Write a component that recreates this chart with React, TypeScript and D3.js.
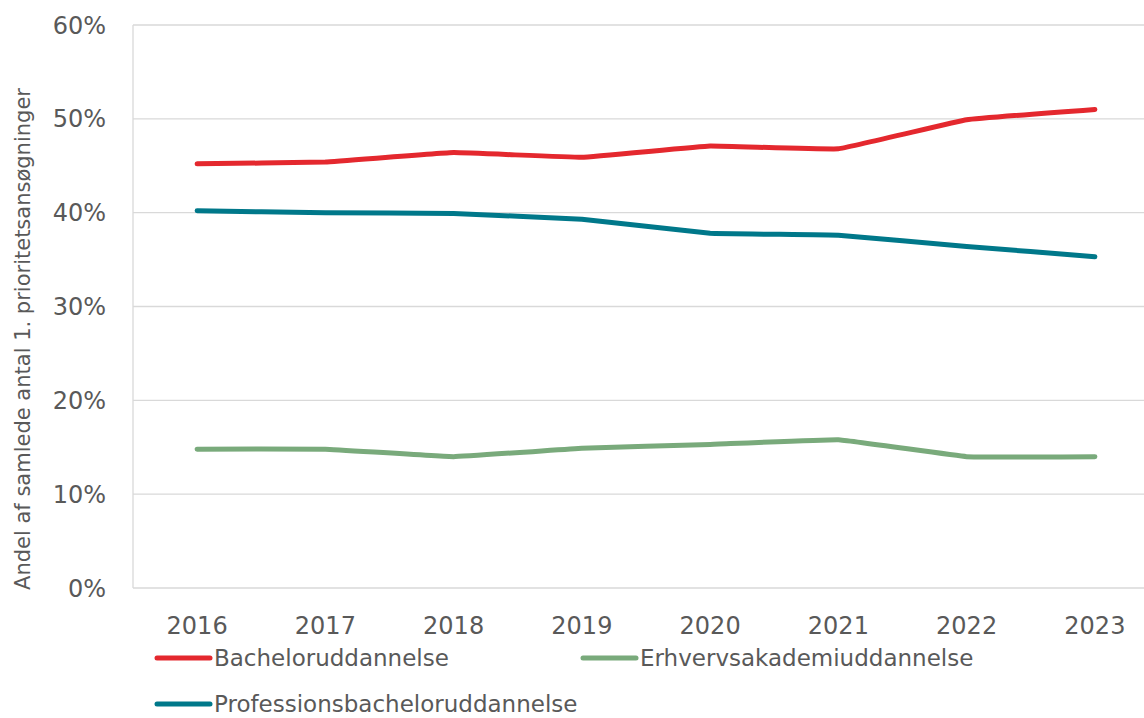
import * as d3 from 'd3';

const years = ['2016', '2017', '2018', '2019', '2020', '2021', '2022', '2023'];
const bachelor = [0.452, 0.454, 0.464, 0.459, 0.471, 0.468, 0.499, 0.51];
const profession = [0.402, 0.4, 0.399, 0.393, 0.378, 0.376, 0.364, 0.353];
const erhverv = [0.148, 0.148, 0.14, 0.149, 0.153, 0.158, 0.14, 0.14];
const yTicks = [0, 0.1, 0.2, 0.3, 0.4, 0.5, 0.6];

const series = [
    { name: 'Bacheloruddannelse', values: bachelor, color: '#E4282E' },
    { name: 'Professionsbacheloruddannelse', values: profession, color: '#00788A' },
    { name: 'Erhvervsakademiuddannelse', values: erhverv, color: '#79AA7B' },
];

const W = 1144;
const H = 718;
const font = 'Tahoma, Verdana, "DejaVu Sans", sans-serif';
const textColor = '#595959';

export default function App() {
    const x = d3.scaleBand().domain(years).range([133, 1159]).padding(0);
    const y = d3.scaleLinear().domain([0, 0.6]).range([588, 25]);
    const cx = (yr: string) => (x(yr) as number) + x.bandwidth() / 2;

    const line = d3.line<number>()
        .x((_, i) => cx(years[i]))
        .y(d => y(d))
        .curve(d3.curveCardinal.tension(0.8));

    // legend layout: two items on first row, one on second
    const legendPos = [
        { x: 157, y: 658 },
        { x: 157, y: 704 },
        { x: 583, y: 658 },
    ];

    return (
        <svg width={W} height={H} style={{ position: 'absolute', left: 0, top: 0 }} fontFamily={font}>
            <rect width={W} height={H} fill="#fff" />
            {yTicks.map(t => (
                <g key={t}>
                    <line x1={133} x2={W} y1={y(t)} y2={y(t)} stroke="#d9d9d9" strokeWidth={1.3} />
                    <text x={106} y={y(t)} dy="0.36em" textAnchor="end" fontSize={24} fill={textColor}>
                        {d3.format('.0%')(t)}
                    </text>
                </g>
            ))}
            <line x1={133} x2={133} y1={25} y2={588} stroke="#d9d9d9" strokeWidth={1.3} />
            {years.map(yr => (
                <text key={yr} x={cx(yr)} y={625} dy="0.36em" textAnchor="middle" fontSize={24} fill={textColor}>
                    {yr}
                </text>
            ))}
            <text
                transform="translate(22,339) rotate(-90)"
                textAnchor="middle"
                dy="0.36em"
                fontSize={21}
                fill={textColor}
            >
                Andel af samlede antal 1. prioritetsansøgninger
            </text>
            {series.map(s => (
                <path key={s.name} d={line(s.values) ?? ''} fill="none" stroke={s.color}
                    strokeWidth={5} strokeLinecap="round" strokeLinejoin="round" />
            ))}
            {series.map((s, i) => (
                <g key={s.name} transform={`translate(${legendPos[i].x},${legendPos[i].y})`}>
                    <line x1={0} x2={53} y1={0} y2={0} stroke={s.color} strokeWidth={5} strokeLinecap="round" />
                    <text x={57} y={0} dy="0.36em" fontSize={23} fill={textColor}>{s.name}</text>
                </g>
            ))}
        </svg>
    );
}
